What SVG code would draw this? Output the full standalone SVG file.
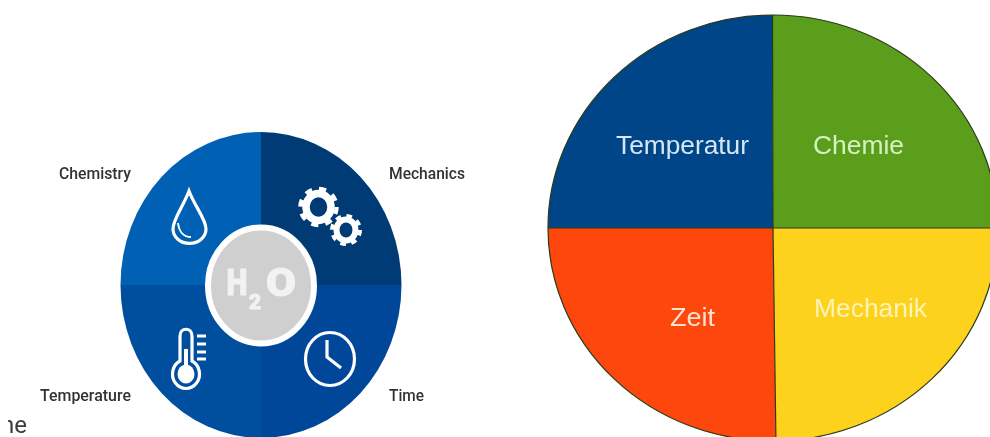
<svg xmlns="http://www.w3.org/2000/svg" width="990" height="437" viewBox="0 0 990 437">
<style>
.dark{font-family:"Roboto","Liberation Sans",sans-serif;font-size:16.5px;font-weight:500;fill:#333}
.pie{font-family:"Liberation Sans",Arial,sans-serif;font-size:25px}
.ic{fill:none;stroke:#fff;stroke-width:3.2}
.edge{stroke:#2b3a1a;stroke-width:1.2;fill:none}
.hh{font-family:Roboto,"Liberation Sans",sans-serif;font-weight:900;fill:#f2f2f2;stroke:#f2f2f2;stroke-width:1}
</style>
<defs>
<clipPath id="lc"><ellipse cx="261" cy="285" rx="140.500" ry="153"/></clipPath>
<clipPath id="rc"><ellipse cx="773" cy="228" rx="225" ry="213"/></clipPath>
<clipPath id="cut"><rect x="8" y="410" width="40" height="27"/></clipPath>
<filter id="soft" filterUnits="userSpaceOnUse" x="0" y="0" width="990" height="437"><feGaussianBlur stdDeviation="0.550"/></filter>
</defs>
<rect width="990" height="437" fill="#fff"/>
<g id="water-chart" filter="url(#soft)">
<g clip-path="url(#lc)">
<rect x="120" y="132" width="141" height="153" fill="#0060b4"/>
<rect x="261" y="132" width="141" height="153" fill="#003b74"/>
<rect x="120" y="285" width="141" height="153" fill="#00509f"/>
<rect x="261" y="285" width="141" height="153" fill="#00479a"/>
</g>
<g id="water-center">
<ellipse cx="261" cy="285.500" rx="53" ry="58" fill="#cfcfcf" stroke="#fff" stroke-width="6"/>
<text class="hh" x="226.500" y="295" font-size="37" textLength="21" lengthAdjust="spacingAndGlyphs">H</text>
<text class="hh" x="249" y="309" font-size="20" textLength="12" lengthAdjust="spacingAndGlyphs">2</text>
<text class="hh" x="266" y="296" font-size="39" textLength="30" lengthAdjust="spacingAndGlyphs">O</text>
</g>
<g id="drop">
<path class="ic" d="M189 191C183 207 173 219 173 229A16 14 0 0 0 206 229C206 219 195 207 189 191Z"/>
<path d="M178 223C179 232 184 237 191 237" fill="none" stroke="#fff" stroke-width="2"/>
</g>
<g id="gears">
<ellipse cx="318.500" cy="207" rx="12.500" ry="13.500" fill="none" stroke="#fff" stroke-width="7.500"/>
<circle cx="318.500" cy="207" r="18" fill="none" stroke="#fff" stroke-width="4.500" stroke-dasharray="7.070 7.070"/>
<ellipse cx="346" cy="230" rx="9.500" ry="10.500" fill="none" stroke="#fff" stroke-width="6"/>
<circle cx="346" cy="230" r="14" fill="none" stroke="#fff" stroke-width="4" stroke-dasharray="5.500 5.500"/>
</g>
<g id="clock">
<ellipse cx="330" cy="359" rx="24.500" ry="26.500" class="ic"/>
<path class="ic" d="M327 340V357L341 368"/>
</g>
<g id="thermometer">
<path class="ic" d="M180 336C180 327 192 327 192 336V361A13.500 14.500 0 1 1 180 361Z"/>
<ellipse cx="186" cy="374" rx="8.500" ry="9.500" fill="#fff"/>
<rect x="184" y="349" width="4" height="25" fill="#fff"/>
<path d="M197 336H206M197 344H206M197 352H206M197 359H206" stroke="#fff" stroke-width="2.800"/>
</g>
<text class="dark" x="59" y="179" textLength="72" lengthAdjust="spacingAndGlyphs">Chemistry</text>
<text class="dark" x="389" y="179" textLength="76" lengthAdjust="spacingAndGlyphs">Mechanics</text>
<text class="dark" x="40" y="401" textLength="91" lengthAdjust="spacingAndGlyphs">Temperature</text>
<text class="dark" x="389" y="401" textLength="35" lengthAdjust="spacingAndGlyphs">Time</text>
<text x="1" y="433" clip-path="url(#cut)" font-family="Roboto,'Liberation Sans',sans-serif" font-size="24" fill="#3a3a3a">ne</text>
</g>
<g id="pie-chart" filter="url(#soft)">
<g clip-path="url(#rc)">
<path d="M540 10H772.500L773 228H540Z" fill="#024587"/>
<path d="M772.500 10H1000V228H773Z" fill="#5a9e1d"/>
<path d="M540 228H773L776 445H540Z" fill="#fd4609"/>
<path d="M773 228H1000V445H776Z" fill="#fdd21c"/>
<path class="edge" d="M772.500 10L773 228L776 445M540 228H1000"/>
</g>
<ellipse class="edge" cx="773" cy="228" rx="225" ry="213"/>
<text class="pie" x="616" y="154" textLength="133" lengthAdjust="spacingAndGlyphs" fill="#d5e6f4">Temperatur</text>
<text class="pie" x="813" y="154" textLength="91" lengthAdjust="spacingAndGlyphs" fill="#d6f2c0">Chemie</text>
<text class="pie" x="670" y="326" textLength="45" lengthAdjust="spacingAndGlyphs" fill="#ffe3d2">Zeit</text>
<text class="pie" x="814" y="317" textLength="113" lengthAdjust="spacingAndGlyphs" fill="#fff3b8">Mechanik</text>
</g>
</svg>
